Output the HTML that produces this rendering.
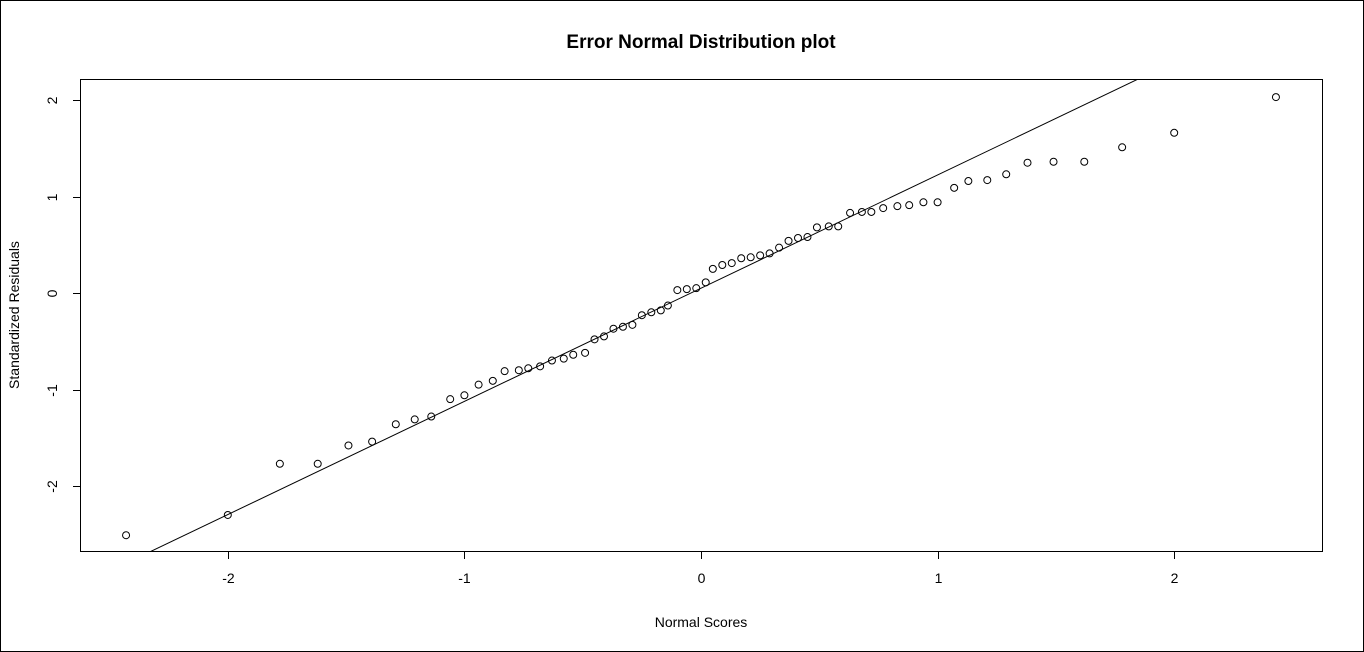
<!DOCTYPE html>
<html><head><meta charset="utf-8"><style>
html,body{margin:0;padding:0;background:#fff;}
svg{display:block;font-family:"Liberation Sans",Arial,sans-serif;}
</style></head><body>
<svg id="chart" width="1364" height="652" xmlns="http://www.w3.org/2000/svg">
<rect x="0.5" y="0.5" width="1363" height="651" fill="#fff" stroke="#000"/>
<text x="701" y="48" text-anchor="middle" font-size="19" font-weight="bold">Error Normal Distribution plot</text>
<rect x="80.5" y="79.5" width="1242" height="472" fill="none" stroke="#000"/>
<text x="701" y="627" text-anchor="middle" font-size="14">Normal Scores</text>
<text transform="translate(19,315) rotate(-90)" text-anchor="middle" font-size="14">Standardized Residuals</text>
<g id="axes"></g><g id="marks"></g>
</svg>
<script>
const xTicks=[-2,-1,0,1,2];
const yTicks=[-2,-1,0,1,2];
const normalScores=[-2.43,-2.00,-1.78,-1.62,-1.49,-1.39,-1.29,-1.21,-1.14,-1.06,-1.00,-0.94,-0.88,-0.83,-0.77,-0.73,-0.68,-0.63,-0.58,-0.54,-0.49,-0.45,-0.41,-0.37,-0.33,-0.29,-0.25,-0.21,-0.17,-0.14,-0.10,-0.06,-0.02,0.02,0.05,0.09,0.13,0.17,0.21,0.25,0.29,0.33,0.37,0.41,0.45,0.49,0.54,0.58,0.63,0.68,0.72,0.77,0.83,0.88,0.94,1.00,1.07,1.13,1.21,1.29,1.38,1.49,1.62,1.78,2.00,2.43];
const residuals=[-2.51,-2.30,-1.77,-1.77,-1.58,-1.54,-1.36,-1.31,-1.28,-1.10,-1.06,-0.95,-0.91,-0.81,-0.80,-0.78,-0.76,-0.70,-0.68,-0.64,-0.62,-0.48,-0.45,-0.37,-0.35,-0.33,-0.23,-0.20,-0.18,-0.13,0.03,0.04,0.05,0.11,0.25,0.29,0.31,0.36,0.37,0.39,0.41,0.47,0.54,0.57,0.58,0.68,0.69,0.69,0.83,0.84,0.84,0.88,0.90,0.91,0.94,0.94,1.09,1.16,1.17,1.23,1.35,1.36,1.36,1.51,1.66,2.03];
const lineIntercept=0.05, lineSlope=1.173;
const NS="http://www.w3.org/2000/svg";
const L=80,R=1323,T=79,B=552;
const sx=v=>701+v*236.6, sy=v=>293-v*96.5;
const axes=document.getElementById('axes'), marks=document.getElementById('marks');
function mk(tag,attrs,parent){const e=document.createElementNS(NS,tag);for(const k in attrs)e.setAttribute(k,attrs[k]);parent.appendChild(e);return e;}
xTicks.forEach(t=>{
  const x=Math.round(sx(t))+0.5;
  const l=mk('line',{x1:x,x2:x,y1:B,y2:B+7,stroke:'#000'},axes);
  
  
  const tx=mk('text',{x:x,y:B+31,'text-anchor':'middle','font-size':'14'},axes);
  tx.textContent=t;
  
  
});
yTicks.forEach(t=>{
  const y=Math.round(sy(t))+0.5;
  const l=mk('line',{x1:L-7,x2:L,y1:y,y2:y,stroke:'#000'},axes);
  
  
  const tx=mk('text',{transform:`translate(${L-28},${y}) rotate(-90)`,'text-anchor':'middle','font-size':'14','dominant-baseline':'central'},axes);
  tx.textContent=t;
  
  
});
const cp=mk('clipPath',{id:'pc'},marks);mk('rect',{x:L,y:T,width:R-L,height:B-T},cp);
const x0=-3,x1=3;
const ln=mk('line',{x1:sx(x0),y1:sy(lineIntercept+lineSlope*x0),x2:sx(x1),y2:sy(lineIntercept+lineSlope*x1),stroke:'#000','stroke-width':'1','clip-path':'url(#pc)'},marks);


normalScores.forEach((v,i)=>{
  const c=mk('circle',{cx:sx(v),cy:sy(residuals[i]),r:3.5,fill:'none',stroke:'#000','stroke-width':'1'},marks);
  
  
});
</script>
</body></html>
